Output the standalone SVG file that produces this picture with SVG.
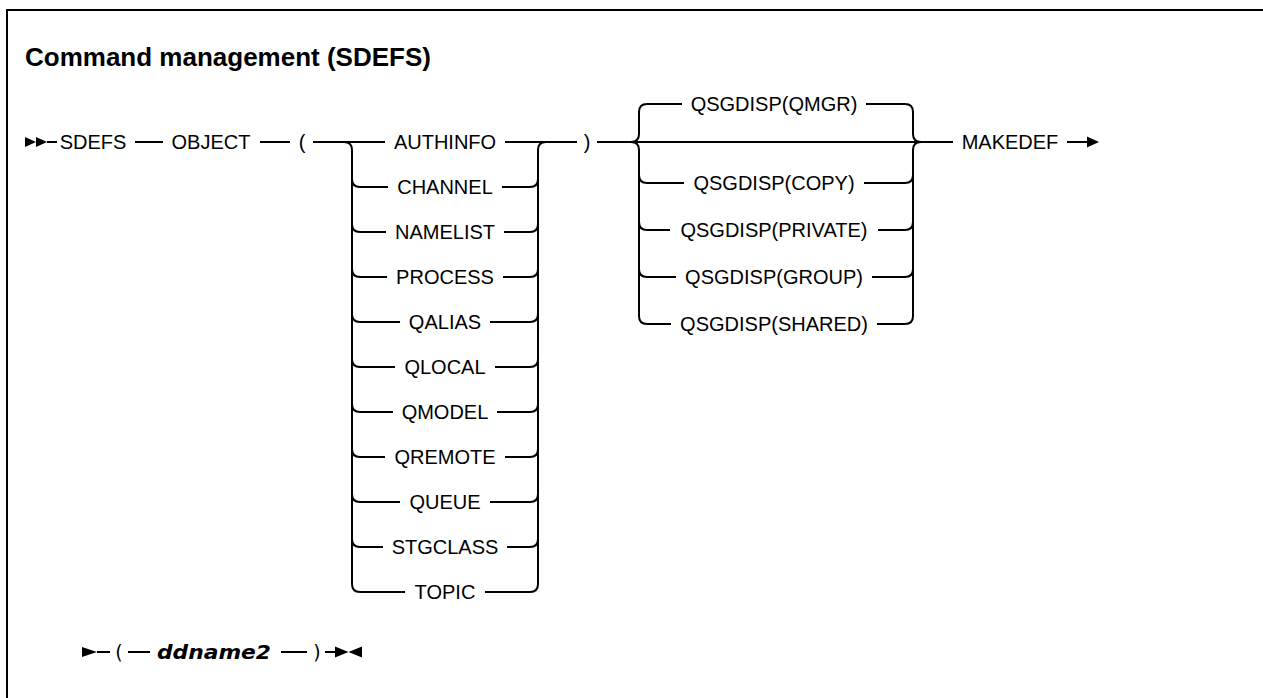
<svg xmlns="http://www.w3.org/2000/svg" width="1263" height="698" viewBox="0 0 1263 698">
<style>
.t{font-family:"Liberation Sans",Arial,sans-serif;font-size:20px;fill:#000;text-anchor:middle}
.ttl{font-family:"Liberation Sans",Arial,sans-serif;font-size:26px;font-weight:bold;fill:#000}
.v{font-family:"DejaVu Sans",sans-serif;font-size:20px;font-weight:bold;font-style:italic;fill:#000}
.p{font-family:"DejaVu Sans",sans-serif;font-size:19px;fill:#000;text-anchor:middle}
.l{fill:none;stroke:#000;stroke-width:2}
.a{fill:#000}
</style>
<rect width="1263" height="698" fill="#fff"/>
<g id="frame"><path class="l" d="M7,698 L7,10 L1263,10" stroke-width="2.5"/></g>
<text id="title" class="ttl" x="25" y="66">Command management (SDEFS)</text>
<g id="connectors">
<polygon class="a" points="25,137 36,142 25,147"/>
<polygon class="a" points="36,137 47,142 36,147"/>
<path class="l" d="M47,142 L57,142 M135,142 L163,142 M260,142 L290,142 M313,142 L385,142 M505,142 L577,142 M597,142 L953,142 M1067,142 L1088,142"/>
<polygon class="a" points="1087,136.5 1099,142 1087,147.5"/>
<!-- OBJECT choice -->
<path class="l" d="M344,142 Q352,142 352,150 L352,584 M538,150 Q538,142 546,142 M538,150 L538,584"/>
<path class="l" d="M352,179 Q352,187 360,187 L388,187 M502,187 L530,187 Q538,187 538,179"/>
<path class="l" d="M352,224 Q352,232 360,232 L386,232 M504,232 L530,232 Q538,232 538,224"/>
<path class="l" d="M352,269 Q352,277 360,277 L387,277 M503,277 L530,277 Q538,277 538,269"/>
<path class="l" d="M352,314 Q352,322 360,322 L400,322 M490,322 L530,322 Q538,322 538,314"/>
<path class="l" d="M352,359 Q352,367 360,367 L395,367 M495,367 L530,367 Q538,367 538,359"/>
<path class="l" d="M352,404 Q352,412 360,412 L393,412 M497,412 L530,412 Q538,412 538,404"/>
<path class="l" d="M352,449 Q352,457 360,457 L385,457 M505,457 L530,457 Q538,457 538,449"/>
<path class="l" d="M352,494 Q352,502 360,502 L400,502 M490,502 L530,502 Q538,502 538,494"/>
<path class="l" d="M352,539 Q352,547 360,547 L383,547 M507,547 L530,547 Q538,547 538,539"/>
<path class="l" d="M352,584 Q352,592 360,592 L405,592 M485,592 L530,592 Q538,592 538,584"/>
<!-- QSGDISP choice -->
<path class="l" d="M631,142 Q639,142 639,134 L639,112 Q639,104 647,104 L682,104 M866,104 L905,104 Q913,104 913,112 L913,134 Q913,142 921,142"/>
<path class="l" d="M631,142 Q639,142 639,150 L639,316 Q639,324 647,324 L671,324 M877,324 L905,324 Q913,324 913,316 L913,150 Q913,142 921,142"/>
<path class="l" d="M639,175 Q639,183 647,183 L684,183 M864,183 L905,183 Q913,183 913,175"/>
<path class="l" d="M639,222 Q639,230 647,230 L670,230 M878,230 L905,230 Q913,230 913,222"/>
<path class="l" d="M639,269 Q639,277 647,277 L676,277 M872,277 L905,277 Q913,277 913,269"/>
<!-- bottom line -->
<polygon class="a" points="82,647 97,652 82,657"/>
<path class="l" d="M97,652 L110,652 M128,652 L150,652 M281,652 L307,652 M325,652 L336,652"/>
<polygon class="a" points="335,646.5 348.5,652 335,657.5"/>
<polygon class="a" points="362,646.5 348.5,652 362,657.5"/>
</g>
<g id="n-sdefs"><text class="t" x="93" y="149">SDEFS</text></g>
<g id="n-object"><text class="t" x="211" y="149">OBJECT</text></g>
<g id="n-lparen"><text class="t" x="302" y="149">(</text></g>
<g id="n-authinfo"><text class="t" x="445" y="149">AUTHINFO</text></g>
<g id="n-channel"><text class="t" x="445" y="194">CHANNEL</text></g>
<g id="n-namelist"><text class="t" x="445" y="239">NAMELIST</text></g>
<g id="n-process"><text class="t" x="445" y="284">PROCESS</text></g>
<g id="n-qalias"><text class="t" x="445" y="329">QALIAS</text></g>
<g id="n-qlocal"><text class="t" x="445" y="374">QLOCAL</text></g>
<g id="n-qmodel"><text class="t" x="445" y="419">QMODEL</text></g>
<g id="n-qremote"><text class="t" x="445" y="464">QREMOTE</text></g>
<g id="n-queue"><text class="t" x="445" y="509">QUEUE</text></g>
<g id="n-stgclass"><text class="t" x="445" y="554">STGCLASS</text></g>
<g id="n-topic"><text class="t" x="445" y="599">TOPIC</text></g>
<g id="n-rparen"><text class="t" x="587" y="149">)</text></g>
<g id="n-qmgr"><text class="t" x="774" y="111">QSGDISP(QMGR)</text></g>
<g id="n-copy"><text class="t" x="774" y="190">QSGDISP(COPY)</text></g>
<g id="n-private"><text class="t" x="774" y="237">QSGDISP(PRIVATE)</text></g>
<g id="n-group"><text class="t" x="774" y="284">QSGDISP(GROUP)</text></g>
<g id="n-shared"><text class="t" x="774" y="331">QSGDISP(SHARED)</text></g>
<g id="n-makedef"><text class="t" x="1010" y="149">MAKEDEF</text></g>
<g id="n-lparen2"><text class="p" x="119" y="659">(</text></g>
<g id="n-ddname2"><text class="v" x="157" y="659" textLength="114" lengthAdjust="spacingAndGlyphs">ddname2</text></g>
<g id="n-rparen2"><text class="p" x="317" y="659">)</text></g>
</svg>
